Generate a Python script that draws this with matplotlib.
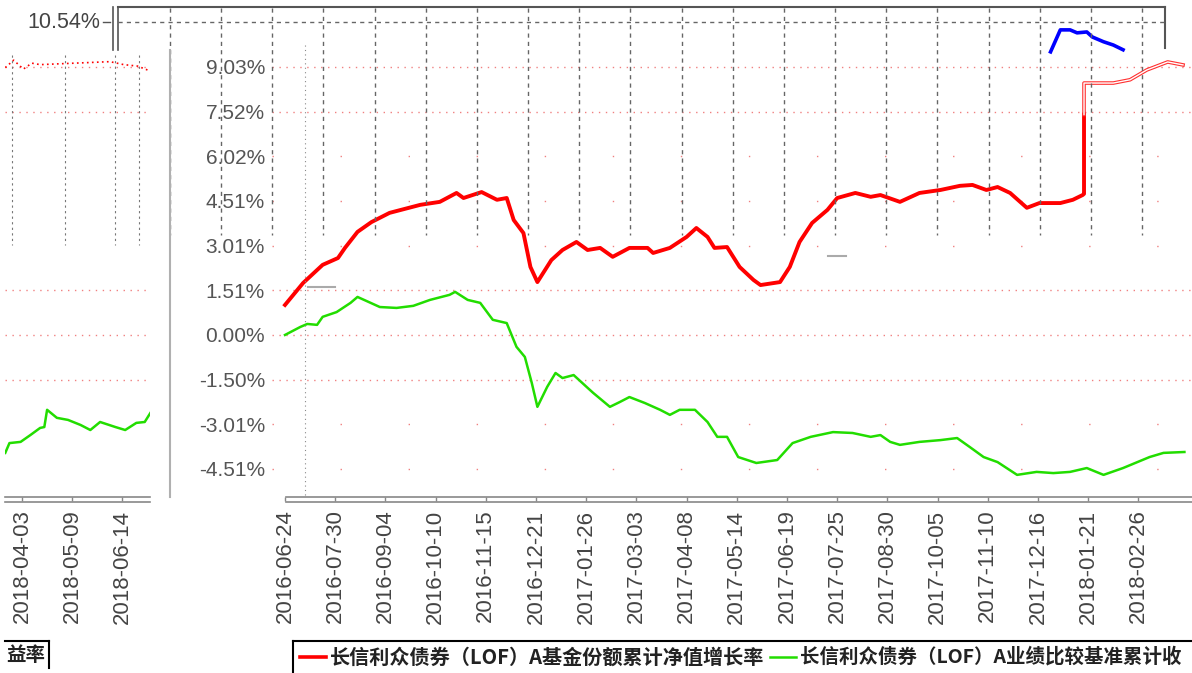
import matplotlib
matplotlib.use("Agg")
import matplotlib.pyplot as plt
import matplotlib.dates as mdates
from matplotlib.lines import Line2D
import pandas as pd

W, H = 1192, 673

# cumulative growth of the fund (red) and its benchmark (green), in %
red_dates = ['2016-06-24', '2016-07-07', '2016-07-21', '2016-08-01', '2016-08-06', '2016-08-15',
             '2016-08-25', '2016-09-07', '2016-09-29', '2016-10-13', '2016-10-25', '2016-10-30',
             '2016-11-12', '2016-11-23', '2016-11-30', '2016-12-05', '2016-12-12', '2016-12-17',
             '2016-12-22', '2017-01-01', '2017-01-09', '2017-01-19', '2017-01-27', '2017-02-05',
             '2017-02-14', '2017-02-26', '2017-03-11', '2017-03-15', '2017-03-27', '2017-04-08',
             '2017-04-15', '2017-04-23', '2017-04-28', '2017-05-07', '2017-05-16', '2017-05-26',
             '2017-05-31', '2017-06-14', '2017-06-21', '2017-06-28', '2017-07-07', '2017-07-18',
             '2017-07-25', '2017-08-07', '2017-08-18', '2017-08-25', '2017-09-08', '2017-09-22',
             '2017-10-07', '2017-10-21', '2017-10-30', '2017-11-09', '2017-11-17', '2017-11-26',
             '2017-12-08', '2017-12-17', '2018-01-01', '2018-01-10', '2018-01-17', '2018-01-18',
             '2018-01-18']
red_vals = [1.01, 1.75, 2.36, 2.59, 2.93, 3.47, 3.80, 4.11, 4.38, 4.48, 4.78, 4.61,
            4.81, 4.55, 4.61, 3.87, 3.43, 2.29, 1.78, 2.52, 2.86, 3.13, 2.86, 2.93,
            2.63, 2.93, 2.93, 2.76, 2.93, 3.30, 3.60, 3.30, 2.93, 2.96, 2.29, 1.85,
            1.68, 1.78, 2.29, 3.13, 3.77, 4.21, 4.61, 4.78, 4.65, 4.71, 4.48, 4.78,
            4.88, 5.02, 5.05, 4.88, 4.98, 4.78, 4.28, 4.44, 4.44, 4.55, 4.71, 4.75,
            7.42]
# part after the jump is drawn hollow in the source image
hollow_dates = ['2018-01-18', '2018-01-18', '2018-02-08', '2018-02-20', '2018-03-04', '2018-03-19', '2018-03-30']
hollow_vals = [7.42, 8.48, 8.48, 8.59, 8.92, 9.19, 9.09]

green_dates = ['2016-06-24', '2016-07-05', '2016-07-10', '2016-07-17', '2016-07-21', '2016-07-31',
               '2016-08-10', '2016-08-15', '2016-08-23', '2016-08-31', '2016-09-12', '2016-09-24',
               '2016-10-06', '2016-10-20', '2016-10-24', '2016-11-02', '2016-11-11', '2016-11-20',
               '2016-11-30', '2016-12-07', '2016-12-13', '2016-12-18', '2016-12-22', '2016-12-29',
               '2017-01-04', '2017-01-09', '2017-01-17', '2017-01-27', '2017-01-31', '2017-02-12',
               '2017-02-19', '2017-02-26', '2017-03-09', '2017-03-20', '2017-03-27', '2017-04-03',
               '2017-04-14', '2017-04-23', '2017-04-30', '2017-05-07', '2017-05-15', '2017-05-28',
               '2017-06-12', '2017-06-23', '2017-07-06', '2017-07-22', '2017-08-05', '2017-08-18',
               '2017-08-25', '2017-09-01', '2017-09-08', '2017-09-22', '2017-10-07', '2017-10-19',
               '2017-10-28', '2017-11-07', '2017-11-17', '2017-12-01', '2017-12-15', '2017-12-27',
               '2018-01-08', '2018-01-20', '2018-02-01', '2018-02-15', '2018-03-06', '2018-03-16',
               '2018-03-31']
green_vals = [0.00, 0.27, 0.37, 0.34, 0.61, 0.77, 1.08, 1.28, 1.11, 0.94, 0.91, 0.98,
              1.18, 1.35, 1.45, 1.18, 1.08, 0.51, 0.40, -0.40, -0.74, -1.62, -2.42, -1.75,
              -1.28, -1.45, -1.35, -1.78, -1.95, -2.42, -2.26, -2.09, -2.29, -2.52, -2.69, -2.52,
              -2.52, -2.93, -3.43, -3.43, -4.11, -4.31, -4.21, -3.64, -3.43, -3.27, -3.30, -3.43,
              -3.37, -3.60, -3.70, -3.60, -3.54, -3.47, -3.77, -4.11, -4.28, -4.71, -4.61, -4.65,
              -4.61, -4.48, -4.71, -4.48, -4.11, -3.97, -3.94]

# wrapped-around tail shown in the left strip
tail_green_dates = ['2018-03-22', '2018-03-25', '2018-04-02', '2018-04-09', '2018-04-16', '2018-04-19',
                    '2018-04-21', '2018-04-28', '2018-05-06', '2018-05-15', '2018-05-22', '2018-05-29',
                    '2018-06-09', '2018-06-16', '2018-06-24', '2018-06-30', '2018-07-04']
tail_green_vals = [-3.97, -3.64, -3.60, -3.37, -3.13, -3.10, -2.52, -2.79, -2.86, -3.03, -3.20, -2.93,
                   -3.10, -3.20, -2.96, -2.93, -2.63]
tail_red_dates = ['2018-03-22', '2018-03-28', '2018-04-04', '2018-04-10', '2018-04-16',
                  '2018-06-05', '2018-06-15', '2018-06-25', '2018-07-03']
tail_red_vals = [9.00, 9.25, 8.95, 9.15, 9.10, 9.20, 9.10, 9.05, 8.90]

blue_dates = ['2017-12-25', '2018-01-01', '2018-01-08', '2018-01-13', '2018-01-20', '2018-01-24',
              '2018-02-01', '2018-02-08', '2018-02-15']
blue_vals = [9.53, 10.27, 10.27, 10.17, 10.20, 10.03, 9.87, 9.76, 9.60]

y_ticks = [-4.51, -3.01, -1.50, 0.00, 1.51, 3.01, 4.51, 6.02, 7.52, 9.03]
y_labels = ['-4.51%', '-3.01%', '-1.50%', '0.00%', '1.51%', '3.01%', '4.51%', '6.02%', '7.52%', '9.03%']
top_label = '10.54%'
main_ticks = ['2016-06-24', '2016-07-30', '2016-09-04', '2016-10-10', '2016-11-15', '2016-12-21',
              '2017-01-26', '2017-03-03', '2017-04-08', '2017-05-14', '2017-06-19', '2017-07-25',
              '2017-08-30', '2017-10-05', '2017-11-10', '2017-12-16', '2018-01-21', '2018-02-26']
tail_ticks = ['2018-04-03', '2018-05-09', '2018-06-14']
# legend texts as far as they are visible in the strip
legend_labels = ['长信利众债券（LOF）A基金份额累计净值增长率',
                 '长信利众债券（LOF）A业绩比较基准累计收']
legend_tail = '益率'

plt.rcParams['font.family'] = ['Liberation Sans', 'Noto Sans CJK SC', 'DejaVu Sans']

fig = plt.figure(figsize=(W / 100, H / 100), dpi=100)
fig.patch.set_facecolor('white')


def px_axes(x0, y0, x1, y1):
    return fig.add_axes([x0 / W, 1 - y1 / H, (x1 - x0) / W, (y1 - y0) / H])


def fline(xs, ys, **kw):
    fig.add_artist(Line2D([x / W for x in xs], [1 - y / H for y in ys],
                          transform=fig.transFigure, **kw))


def d(s):
    return mdates.date2num(pd.to_datetime(s))


PX_PER_DAY = 50.2 / 36
YMIN, YMAX = -5.455, 11.04

# ghost frame of the upper chart
for k in range(20):
    x = 170 + 51.16 * k
    fline([x, x], [8, 235], color='#666666', lw=1, dashes=(3, 3))
fline([118, 1165], [7, 7], color='#555555', lw=1.5)
fline([1165, 1165], [7, 48], color='#555555', lw=1.5)
fline([113, 113], [7, 50], color='#555555', lw=1.2)
fline([118, 118], [7, 50], color='#555555', lw=1.2)
fline([118, 1165], [22, 22], color='#666666', lw=1, dashes=(3, 3))
fline([103, 110], [22, 22], color='#555555', lw=1)
fig.text(100 / W, 1 - 22 / H, top_label, ha='right', va='center', fontsize=15.5, color='#444444')

# left strip separator and ghost grid
fline([170, 170], [50, 497], color='#b0b0b0', lw=1.5)
for x in [12, 65, 115, 139]:
    fline([x, x], [55, 245], color='#777777', lw=0.8, dashes=(2, 3))
fline([308, 335], [287, 287], color='#aaaaaa', lw=1.5)
fline([828, 846], [256, 256], color='#aaaaaa', lw=1.5)
fline([305, 305], [45, 497], color='#888888', lw=0.8, dashes=(1, 3))

# bottom double frame
for y in [497, 502]:
    fline([286, 1192], [y, y], color='#888888', lw=1.2)
    fline([5, 150], [y, y], color='#888888', lw=1.2)

# main chart
x0 = d(main_ticks[0])
ax = px_axes(272, 7, 1192, 497)
ax.set_xlim(x0 - 13 / PX_PER_DAY, x0 + 907 / PX_PER_DAY)
ax.set_ylim(YMIN, YMAX)
ax.patch.set_alpha(0)
for s in ax.spines.values():
    s.set_visible(False)

for v in y_ticks:
    if v in (9.03, 7.52, 1.51, 0.00, -1.50):
        ax.axhline(v, color='#f08080', lw=1, dashes=(1, 4))
    else:
        ax.axhline(v, color='#f08080', lw=1, dashes=(1, 48))

ax.plot(pd.to_datetime(green_dates), green_vals, color='#22dd00', lw=1.8)
ax.plot(pd.to_datetime(red_dates), red_vals, color='#ff0000', lw=2.8)
ax.plot(pd.to_datetime(hollow_dates), hollow_vals, color='#ff3030', lw=2.6)
ax.plot(pd.to_datetime(hollow_dates), hollow_vals, color='white', lw=1.0)
ax.plot(pd.to_datetime(blue_dates), blue_vals, color='#0000ff', lw=2.6)

ax.set_yticks(y_ticks)
ax.set_yticklabels(y_labels)
ax.set_xticks(pd.to_datetime(main_ticks))
ax.set_xticklabels(main_ticks, rotation=90)
ax.tick_params(axis='y', length=0, pad=5, labelsize=15, labelcolor='#555555')
ax.tick_params(axis='x', length=3, width=1, color='#888888', pad=6, labelsize=16, labelcolor='#444444')

# left strip with the wrapped tail
t0 = d(tail_ticks[0])
axl = px_axes(5, 7, 150, 497)
axl.set_xlim(t0 - 17 / PX_PER_DAY, t0 + 128 / PX_PER_DAY)
axl.set_ylim(YMIN, YMAX)
axl.patch.set_alpha(0)
for s in axl.spines.values():
    s.set_visible(False)
for v in (9.03, 7.52, 1.51, 0.00, -1.50):
    axl.axhline(v, color='#f08080', lw=1, dashes=(1, 4))
axl.plot(pd.to_datetime(tail_green_dates), tail_green_vals, color='#22dd00', lw=1.8)
axl.plot(pd.to_datetime(tail_red_dates), tail_red_vals, color='#ff0000', lw=1.2, dashes=(1, 2))
axl.set_yticks([])
axl.set_xticks(pd.to_datetime(tail_ticks))
axl.set_xticklabels(tail_ticks, rotation=90)
axl.tick_params(axis='x', length=3, width=1, color='#888888', pad=6, labelsize=16, labelcolor='#444444')

# legend strip
axg = px_axes(293, 641, 1192, 673)
axg.set_xlim(293, 1192)
axg.set_ylim(673, 641)
axg.set_xticks([])
axg.set_yticks([])
for side in ['right', 'bottom']:
    axg.spines[side].set_visible(False)
axg.spines['top'].set_linewidth(1.5)
axg.spines['left'].set_linewidth(1.5)
axg.plot([300, 326], [657, 657], color='#ff0000', lw=2.6)
axg.text(330, 657, legend_labels[0], fontsize=14.5, fontweight='bold', color='#222222',
         va='center', family=['Noto Sans CJK SC'])
axg.plot([770, 796], [657, 657], color='#22dd00', lw=1.8)
axg.text(800, 657, legend_labels[1], fontsize=14, fontweight='bold', color='#222222',
         va='center', family=['Noto Sans CJK SC'])

axg2 = px_axes(5, 641, 49, 668)
axg2.set_xlim(5, 49)
axg2.set_ylim(668, 641)
axg2.set_xticks([])
axg2.set_yticks([])
for side in ['left', 'bottom']:
    axg2.spines[side].set_visible(False)
axg2.spines['top'].set_linewidth(1.5)
axg2.spines['right'].set_linewidth(1.5)
axg2.text(45, 656, legend_tail, fontsize=14, fontweight='bold', color='#222222',
          va='center', ha='right', family=['Noto Sans CJK SC'])

fig.savefig('out.png', dpi=100)
